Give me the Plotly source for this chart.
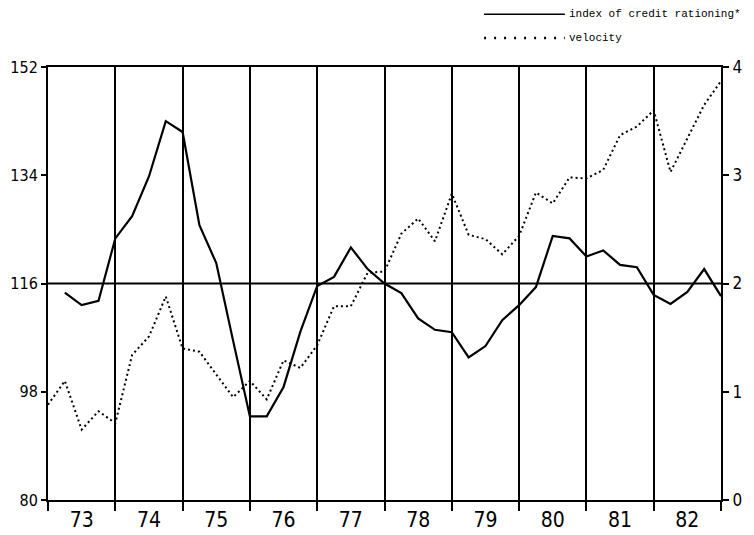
import plotly.graph_objects as go

# ---- data (quarterly) ----
credit_start = 1973.25
credit_rationing = [114.5, 112.4, 113.1, 123.5, 127.2, 133.8, 143.0, 141.2,
                    125.7, 119.4, 106.5, 93.9, 93.9, 98.8, 108.0, 115.6,
                    117.1, 122.0, 118.4, 116.0, 114.4, 110.2, 108.3, 107.9,
                    103.7, 105.6, 109.9, 112.4, 115.4, 123.9, 123.5, 120.5,
                    121.5, 119.1, 118.7, 114.1, 112.6, 114.6, 118.4, 113.9]
velocity_start = 1973.0
velocity = [0.88, 1.10, 0.65, 0.82, 0.71, 1.34, 1.51, 1.88, 1.40,
            1.37, 1.16, 0.95, 1.10, 0.93, 1.29, 1.22, 1.43,
            1.79, 1.79, 2.10, 2.11, 2.46, 2.60, 2.39, 2.83,
            2.45, 2.41, 2.27, 2.44, 2.84, 2.74, 2.98, 2.97,
            3.05, 3.37, 3.45, 3.60, 3.03, 3.34, 3.65, 3.87]
year_labels = ["73", "74", "75", "76", "77", "78", "79", "80", "81", "82"]
left_ticks = [80, 98, 116, 134, 152]
right_ticks = [0, 1, 2, 3, 4]
reference_level = 116

x_credit = [credit_start + 0.25 * i for i in range(len(credit_rationing))]
x_velocity = [velocity_start + 0.25 * i for i in range(len(velocity))]
year_centers = [1973.5 + i for i in range(len(year_labels))]

tick_font = "DejaVu Sans Condensed, Liberation Sans Narrow, sans-serif"
legend_font = "Liberation Mono, Courier New, monospace"

fig = go.Figure()
fig.add_trace(go.Scatter(x=x_credit, y=credit_rationing, mode="lines",
                         line=dict(color="black", width=2.2),
                         name="index of credit rationing*", yaxis="y"))
fig.add_trace(go.Scatter(x=x_velocity, y=velocity, mode="lines",
                         line=dict(color="black", width=2, dash="2px,3px"),
                         name="velocity", yaxis="y2"))

# horizontal reference line
fig.add_shape(type="line", xref="paper", yref="y", x0=0, x1=1,
              y0=reference_level, y1=reference_level,
              line=dict(color="black", width=2))

# legend keys drawn as shapes/annotations
fig.add_shape(type="line", xref="paper", yref="paper", x0=0.648, x1=0.768,
              y0=1.122, y1=1.122, line=dict(color="black", width=1.5))
fig.add_shape(type="line", xref="paper", yref="paper", x0=0.648, x1=0.768,
              y0=1.067, y1=1.067, line=dict(color="black", width=2.5, dash="2px,8px"))
fig.add_annotation(xref="paper", yref="paper", x=0.771, y=1.122,
                   text="index of credit rationing*", showarrow=False,
                   xanchor="left", yanchor="middle",
                   font=dict(family=legend_font, size=11, color="black"))
fig.add_annotation(xref="paper", yref="paper", x=0.771, y=1.067,
                   text="velocity", showarrow=False,
                   xanchor="left", yanchor="middle",
                   font=dict(family=legend_font, size=11, color="black"))

# the page adds an 8px body margin, so the figure is sized/margined to compensate
fig.update_layout(
    width=746, height=527,
    margin=dict(l=40, r=33, t=59, b=35, autoexpand=False),
    paper_bgcolor="white", plot_bgcolor="white",
    showlegend=False,
    xaxis=dict(range=[1973, 1983], tickvals=year_centers, ticktext=year_labels,
               ticks="", showgrid=False, zeroline=False, automargin=False,
               showline=True, linecolor="black", linewidth=2, mirror=True,
               tickfont=dict(family=tick_font, size=21, color="black"),
               minor=dict(dtick=1, tick0=1973, ticks="outside", ticklen=9,
                          tickwidth=2, tickcolor="black", showgrid=True,
                          gridcolor="black", gridwidth=2)),
    yaxis=dict(range=[80, 152], tickvals=left_ticks, ticks="outside",
               ticklen=5, tickwidth=2, tickcolor="black", automargin=False,
               showgrid=False, zeroline=False, showline=True,
               linecolor="black", linewidth=2,
               tickfont=dict(family=tick_font, size=16, color="black")),
    yaxis2=dict(range=[0, 4], tickvals=right_ticks, overlaying="y", side="right",
                ticks="outside", ticklen=6, tickwidth=2, tickcolor="black",
                automargin=False,
                showgrid=False, zeroline=False, showline=True,
                linecolor="black", linewidth=2,
                tickfont=dict(family=tick_font, size=17, color="black")),
)

fig.write_html("out.html")
